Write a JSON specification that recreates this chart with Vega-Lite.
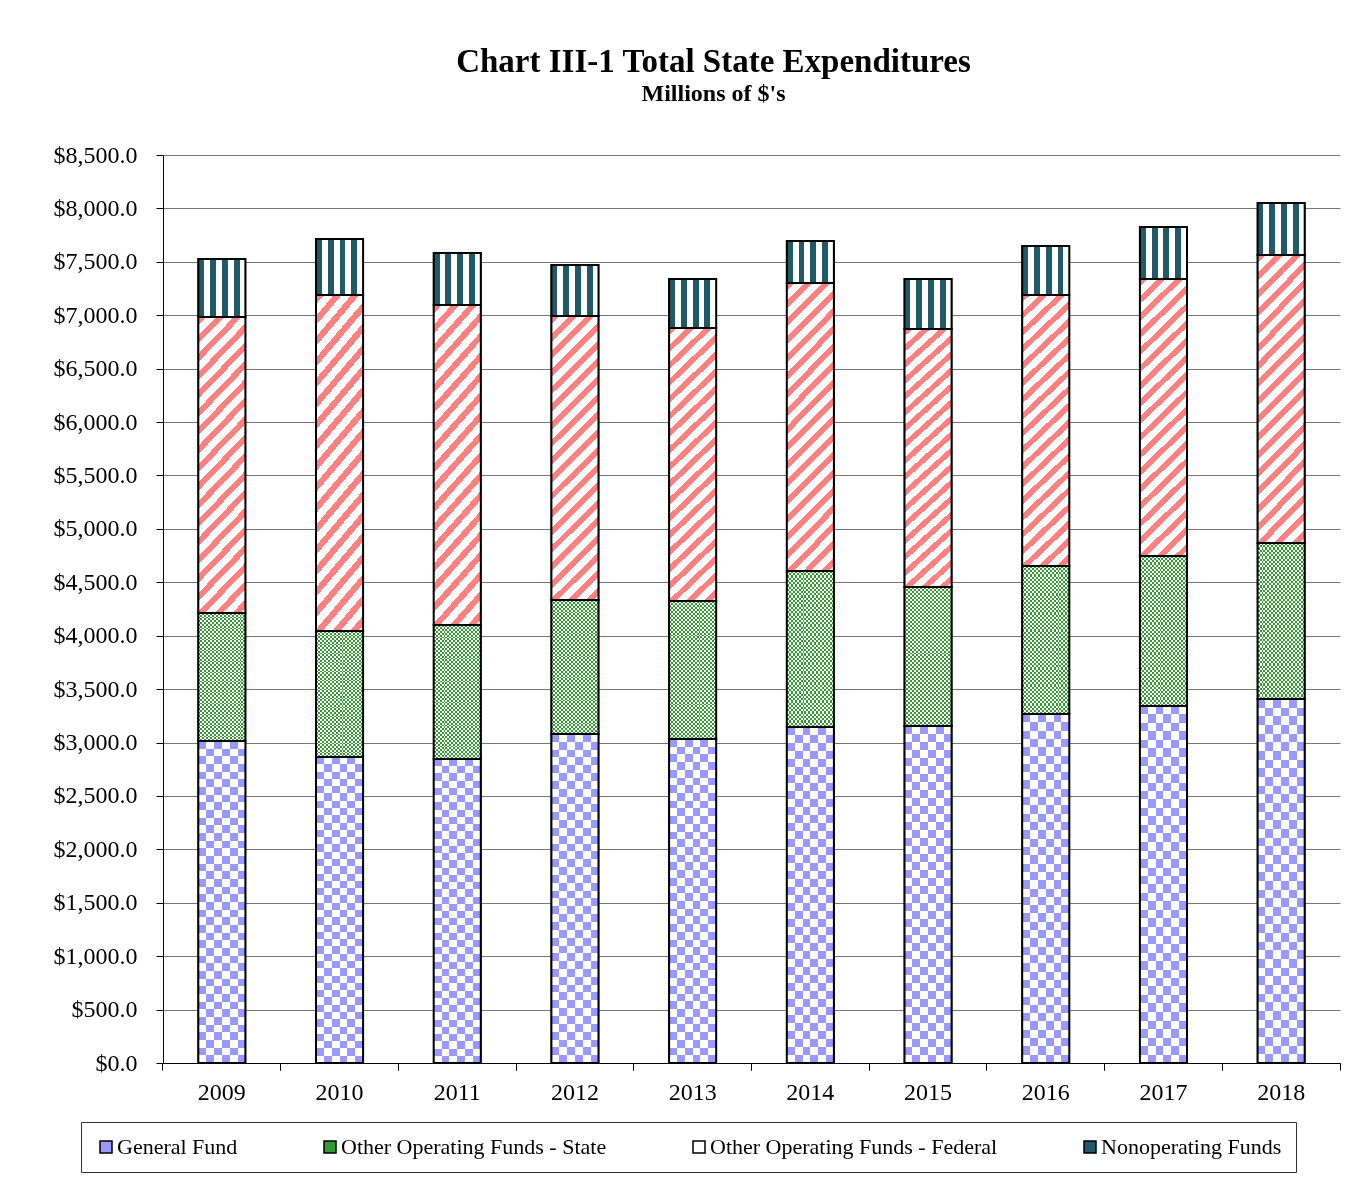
{
  "$schema": "https://vega.github.io/schema/vega-lite/v6.json",
  "width": 1177,
  "height": 908,
  "autosize": {"type": "none"},
  "padding": {"left": 163, "top": 155, "right": 26, "bottom": 115},
  "background": "white",
  "config": {"view": {"stroke": null}},
  "title": {
    "text": "Chart III-1  Total State Expenditures",
    "subtitle": "Millions of $'s",
    "font": "Liberation Serif", "fontSize": 33, "fontWeight": "bold", "color": "black",
    "subtitleFont": "Liberation Serif", "subtitleFontSize": 24, "subtitleFontWeight": "bold", "subtitleColor": "black",
    "anchor": "middle", "dx": -38, "offset": 37, "subtitlePadding": 3
  },
  "data": {"values": [
    {"year": "2009", "series": "General Fund", "value": 3014},
    {"year": "2009", "series": "Other Operating Funds - State", "value": 1199},
    {"year": "2009", "series": "Other Operating Funds - Federal", "value": 2771},
    {"year": "2009", "series": "Nonoperating Funds", "value": 543},
    {"year": "2010", "series": "General Fund", "value": 2865},
    {"year": "2010", "series": "Other Operating Funds - State", "value": 1179},
    {"year": "2010", "series": "Other Operating Funds - Federal", "value": 3146},
    {"year": "2010", "series": "Nonoperating Funds", "value": 524},
    {"year": "2011", "series": "General Fund", "value": 2846},
    {"year": "2011", "series": "Other Operating Funds - State", "value": 1254},
    {"year": "2011", "series": "Other Operating Funds - Federal", "value": 2996},
    {"year": "2011", "series": "Nonoperating Funds", "value": 487},
    {"year": "2012", "series": "General Fund", "value": 3080},
    {"year": "2012", "series": "Other Operating Funds - State", "value": 1254},
    {"year": "2012", "series": "Other Operating Funds - Federal", "value": 2659},
    {"year": "2012", "series": "Nonoperating Funds", "value": 477},
    {"year": "2013", "series": "General Fund", "value": 3033},
    {"year": "2013", "series": "Other Operating Funds - State", "value": 1292},
    {"year": "2013", "series": "Other Operating Funds - Federal", "value": 2556},
    {"year": "2013", "series": "Nonoperating Funds", "value": 458},
    {"year": "2014", "series": "General Fund", "value": 3145},
    {"year": "2014", "series": "Other Operating Funds - State", "value": 1461},
    {"year": "2014", "series": "Other Operating Funds - Federal", "value": 2696},
    {"year": "2014", "series": "Nonoperating Funds", "value": 393},
    {"year": "2015", "series": "General Fund", "value": 3155},
    {"year": "2015", "series": "Other Operating Funds - State", "value": 1301},
    {"year": "2015", "series": "Other Operating Funds - Federal", "value": 2415},
    {"year": "2015", "series": "Nonoperating Funds", "value": 468},
    {"year": "2016", "series": "General Fund", "value": 3267},
    {"year": "2016", "series": "Other Operating Funds - State", "value": 1386},
    {"year": "2016", "series": "Other Operating Funds - Federal", "value": 2537},
    {"year": "2016", "series": "Nonoperating Funds", "value": 458},
    {"year": "2017", "series": "General Fund", "value": 3342},
    {"year": "2017", "series": "Other Operating Funds - State", "value": 1404},
    {"year": "2017", "series": "Other Operating Funds - Federal", "value": 2593},
    {"year": "2017", "series": "Nonoperating Funds", "value": 487},
    {"year": "2018", "series": "General Fund", "value": 3408},
    {"year": "2018", "series": "Other Operating Funds - State", "value": 1460},
    {"year": "2018", "series": "Other Operating Funds - Federal", "value": 2696},
    {"year": "2018", "series": "Nonoperating Funds", "value": 487}
  ]},
  "transform": [{"stack": "value", "groupby": ["year"], "as": ["v0", "v1"]}],
  "encoding": {
    "x": {"field": "year", "type": "ordinal", "scale": {"paddingInner": 0.6, "paddingOuter": 0.3}, "axis": null},
    "y": {"field": "v1", "type": "quantitative",
      "scale": {"domain": [0, 8500], "nice": false, "zero": true},
      "axis": {"values": [0,500,1000,1500,2000,2500,3000,3500,4000,4500,5000,5500,6000,6500,7000,7500,8000,8500],
        "format": "$,.1f", "title": null, "labelFont": "Liberation Serif", "labelFontSize": 24, "labelColor": "black",
        "labelPadding": 19, "tickSize": 7, "tickColor": "black", "domainColor": "black", "grid": true,
        "gridColor": "#777", "gridWidth": 1}},
    "y2": {"field": "v0"}
  },
  "resolve": {"axis": {"x": "independent"}},
  "layer": [
    {
      "mark": {"type": "bar", "stroke": "black", "strokeWidth": 1.5},
      "encoding": {
        "x": {"field": "year", "type": "ordinal", "scale": {"paddingInner": 0.6, "paddingOuter": 0.3},
          "axis": {"orient": "bottom", "bandPosition": -0.75, "labels": false, "ticks": true, "tickSize": 7,
            "tickColor": "black", "domain": true, "domainColor": "black", "title": null, "grid": false}},
        "color": {"field": "series", "type": "nominal",
          "scale": {"domain": ["General Fund", "Other Operating Funds - State", "Other Operating Funds - Federal", "Nonoperating Funds"],
            "range": ["#9999FF", "#339933", "#FFFFFF", "#215968"]},
          "legend": {"title": null, "orient": "none", "legendX": -82, "legendY": 967, "direction": "horizontal",
            "columns": 4, "columnPadding": 81, "symbolType": "square", "symbolSize": 144,
            "labelFont": "Liberation Serif", "labelFontSize": 22, "labelColor": "black", "labelOffset": 0,
            "labelLimit": 400, "strokeColor": "#333", "padding": 14, "fillColor": "white"}}
      }
    },
    {
      "transform": [{"filter": "datum.series === 'General Fund'"}],
      "mark": {"type": "bar", "fill": {"gradient": "linear", "x1": 0, "y1": 0, "x2": 1, "y2": 0, "stops": [
        {"offset": 0, "color": "#fff"}, {"offset": 0.1667, "color": "#fff"}, {"offset": 0.1667, "color": "#000"}, {"offset": 0.3333, "color": "#000"},
        {"offset": 0.3333, "color": "#fff"}, {"offset": 0.5, "color": "#fff"}, {"offset": 0.5, "color": "#000"}, {"offset": 0.6667, "color": "#000"},
        {"offset": 0.6667, "color": "#fff"}, {"offset": 0.8333, "color": "#fff"}, {"offset": 0.8333, "color": "#000"}, {"offset": 1, "color": "#000"}]}},
      "encoding": {
        "x": {"field": "year", "type": "ordinal", "scale": {"paddingInner": 0.6, "paddingOuter": 0.3},
          "axis": {"orient": "bottom", "bandPosition": 1.75, "labels": false, "ticks": true, "tickSize": 7,
            "tickColor": "black", "domain": false, "title": null, "grid": false}}
      }
    },
    {
      "transform": [{"filter": "datum.series === 'General Fund'"}],
      "mark": {"type": "bar", "blend": "difference", "fill": {"gradient": "linear", "x1": 0, "y1": 0, "x2": 0, "y2": 1, "stops": [
        {"offset": 0, "color": "#fff"}, {"offset": 0.0238, "color": "#fff"}, {"offset": 0.0238, "color": "#000"}, {"offset": 0.0476, "color": "#000"},
        {"offset": 0.0476, "color": "#fff"}, {"offset": 0.0714, "color": "#fff"}, {"offset": 0.0714, "color": "#000"}, {"offset": 0.0952, "color": "#000"},
        {"offset": 0.0952, "color": "#fff"}, {"offset": 0.119, "color": "#fff"}, {"offset": 0.119, "color": "#000"}, {"offset": 0.1429, "color": "#000"},
        {"offset": 0.1429, "color": "#fff"}, {"offset": 0.1667, "color": "#fff"}, {"offset": 0.1667, "color": "#000"}, {"offset": 0.1905, "color": "#000"},
        {"offset": 0.1905, "color": "#fff"}, {"offset": 0.2143, "color": "#fff"}, {"offset": 0.2143, "color": "#000"}, {"offset": 0.2381, "color": "#000"},
        {"offset": 0.2381, "color": "#fff"}, {"offset": 0.2619, "color": "#fff"}, {"offset": 0.2619, "color": "#000"}, {"offset": 0.2857, "color": "#000"},
        {"offset": 0.2857, "color": "#fff"}, {"offset": 0.3095, "color": "#fff"}, {"offset": 0.3095, "color": "#000"}, {"offset": 0.3333, "color": "#000"},
        {"offset": 0.3333, "color": "#fff"}, {"offset": 0.3571, "color": "#fff"}, {"offset": 0.3571, "color": "#000"}, {"offset": 0.381, "color": "#000"},
        {"offset": 0.381, "color": "#fff"}, {"offset": 0.4048, "color": "#fff"}, {"offset": 0.4048, "color": "#000"}, {"offset": 0.4286, "color": "#000"},
        {"offset": 0.4286, "color": "#fff"}, {"offset": 0.4524, "color": "#fff"}, {"offset": 0.4524, "color": "#000"}, {"offset": 0.4762, "color": "#000"},
        {"offset": 0.4762, "color": "#fff"}, {"offset": 0.5, "color": "#fff"}, {"offset": 0.5, "color": "#000"}, {"offset": 0.5238, "color": "#000"},
        {"offset": 0.5238, "color": "#fff"}, {"offset": 0.5476, "color": "#fff"}, {"offset": 0.5476, "color": "#000"}, {"offset": 0.5714, "color": "#000"},
        {"offset": 0.5714, "color": "#fff"}, {"offset": 0.5952, "color": "#fff"}, {"offset": 0.5952, "color": "#000"}, {"offset": 0.619, "color": "#000"},
        {"offset": 0.619, "color": "#fff"}, {"offset": 0.6429, "color": "#fff"}, {"offset": 0.6429, "color": "#000"}, {"offset": 0.6667, "color": "#000"},
        {"offset": 0.6667, "color": "#fff"}, {"offset": 0.6905, "color": "#fff"}, {"offset": 0.6905, "color": "#000"}, {"offset": 0.7143, "color": "#000"},
        {"offset": 0.7143, "color": "#fff"}, {"offset": 0.7381, "color": "#fff"}, {"offset": 0.7381, "color": "#000"}, {"offset": 0.7619, "color": "#000"},
        {"offset": 0.7619, "color": "#fff"}, {"offset": 0.7857, "color": "#fff"}, {"offset": 0.7857, "color": "#000"}, {"offset": 0.8095, "color": "#000"},
        {"offset": 0.8095, "color": "#fff"}, {"offset": 0.8333, "color": "#fff"}, {"offset": 0.8333, "color": "#000"}, {"offset": 0.8571, "color": "#000"},
        {"offset": 0.8571, "color": "#fff"}, {"offset": 0.881, "color": "#fff"}, {"offset": 0.881, "color": "#000"}, {"offset": 0.9048, "color": "#000"},
        {"offset": 0.9048, "color": "#fff"}, {"offset": 0.9286, "color": "#fff"}, {"offset": 0.9286, "color": "#000"}, {"offset": 0.9524, "color": "#000"},
        {"offset": 0.9524, "color": "#fff"}, {"offset": 0.9762, "color": "#fff"}, {"offset": 0.9762, "color": "#000"}, {"offset": 1, "color": "#000"}]}},
      "encoding": {
        "x": {"field": "year", "type": "ordinal", "scale": {"paddingInner": 0.6, "paddingOuter": 0.3},
          "axis": {"orient": "bottom", "labels": true, "ticks": false, "domain": false, "grid": false, "title": null,
            "labelAngle": 0, "labelFont": "Liberation Serif", "labelFontSize": 24, "labelColor": "black", "labelPadding": 17}}
      }
    },
    {
      "transform": [{"filter": "datum.series === 'General Fund'"}],
      "mark": {"type": "bar", "blend": "screen", "fill": "#9999FF"}
    },
    {
      "transform": [{"filter": "datum.series === 'Other Operating Funds - State'"}],
      "mark": {"type": "bar", "fill": {"gradient": "linear", "x1": 0, "y1": 0, "x2": 1, "y2": 0, "stops": [
        {"offset": 0, "color": "#fff"}, {"offset": 0.04167, "color": "#fff"}, {"offset": 0.04167, "color": "#000"}, {"offset": 0.08333, "color": "#000"},
        {"offset": 0.08333, "color": "#fff"}, {"offset": 0.125, "color": "#fff"}, {"offset": 0.125, "color": "#000"}, {"offset": 0.16667, "color": "#000"},
        {"offset": 0.16667, "color": "#fff"}, {"offset": 0.20833, "color": "#fff"}, {"offset": 0.20833, "color": "#000"}, {"offset": 0.25, "color": "#000"},
        {"offset": 0.25, "color": "#fff"}, {"offset": 0.29167, "color": "#fff"}, {"offset": 0.29167, "color": "#000"}, {"offset": 0.33333, "color": "#000"},
        {"offset": 0.33333, "color": "#fff"}, {"offset": 0.375, "color": "#fff"}, {"offset": 0.375, "color": "#000"}, {"offset": 0.41667, "color": "#000"},
        {"offset": 0.41667, "color": "#fff"}, {"offset": 0.45833, "color": "#fff"}, {"offset": 0.45833, "color": "#000"}, {"offset": 0.5, "color": "#000"},
        {"offset": 0.5, "color": "#fff"}, {"offset": 0.54167, "color": "#fff"}, {"offset": 0.54167, "color": "#000"}, {"offset": 0.58333, "color": "#000"},
        {"offset": 0.58333, "color": "#fff"}, {"offset": 0.625, "color": "#fff"}, {"offset": 0.625, "color": "#000"}, {"offset": 0.66667, "color": "#000"},
        {"offset": 0.66667, "color": "#fff"}, {"offset": 0.70833, "color": "#fff"}, {"offset": 0.70833, "color": "#000"}, {"offset": 0.75, "color": "#000"},
        {"offset": 0.75, "color": "#fff"}, {"offset": 0.79167, "color": "#fff"}, {"offset": 0.79167, "color": "#000"}, {"offset": 0.83333, "color": "#000"},
        {"offset": 0.83333, "color": "#fff"}, {"offset": 0.875, "color": "#fff"}, {"offset": 0.875, "color": "#000"}, {"offset": 0.91667, "color": "#000"},
        {"offset": 0.91667, "color": "#fff"}, {"offset": 0.95833, "color": "#fff"}, {"offset": 0.95833, "color": "#000"}, {"offset": 1, "color": "#000"}]}}
    },
    {
      "transform": [{"filter": "datum.series === 'Other Operating Funds - State'"}],
      "mark": {"type": "bar", "blend": "difference", "fill": {"gradient": "linear", "x1": 0, "y1": 0, "x2": 0, "y2": 1, "stops": [
        {"offset": 0, "color": "#fff"}, {"offset": 0.01429, "color": "#fff"}, {"offset": 0.01429, "color": "#000"}, {"offset": 0.02857, "color": "#000"},
        {"offset": 0.02857, "color": "#fff"}, {"offset": 0.04286, "color": "#fff"}, {"offset": 0.04286, "color": "#000"}, {"offset": 0.05714, "color": "#000"},
        {"offset": 0.05714, "color": "#fff"}, {"offset": 0.07143, "color": "#fff"}, {"offset": 0.07143, "color": "#000"}, {"offset": 0.08571, "color": "#000"},
        {"offset": 0.08571, "color": "#fff"}, {"offset": 0.1, "color": "#fff"}, {"offset": 0.1, "color": "#000"}, {"offset": 0.11429, "color": "#000"},
        {"offset": 0.11429, "color": "#fff"}, {"offset": 0.12857, "color": "#fff"}, {"offset": 0.12857, "color": "#000"}, {"offset": 0.14286, "color": "#000"},
        {"offset": 0.14286, "color": "#fff"}, {"offset": 0.15714, "color": "#fff"}, {"offset": 0.15714, "color": "#000"}, {"offset": 0.17143, "color": "#000"},
        {"offset": 0.17143, "color": "#fff"}, {"offset": 0.18571, "color": "#fff"}, {"offset": 0.18571, "color": "#000"}, {"offset": 0.2, "color": "#000"},
        {"offset": 0.2, "color": "#fff"}, {"offset": 0.21429, "color": "#fff"}, {"offset": 0.21429, "color": "#000"}, {"offset": 0.22857, "color": "#000"},
        {"offset": 0.22857, "color": "#fff"}, {"offset": 0.24286, "color": "#fff"}, {"offset": 0.24286, "color": "#000"}, {"offset": 0.25714, "color": "#000"},
        {"offset": 0.25714, "color": "#fff"}, {"offset": 0.27143, "color": "#fff"}, {"offset": 0.27143, "color": "#000"}, {"offset": 0.28571, "color": "#000"},
        {"offset": 0.28571, "color": "#fff"}, {"offset": 0.3, "color": "#fff"}, {"offset": 0.3, "color": "#000"}, {"offset": 0.31429, "color": "#000"},
        {"offset": 0.31429, "color": "#fff"}, {"offset": 0.32857, "color": "#fff"}, {"offset": 0.32857, "color": "#000"}, {"offset": 0.34286, "color": "#000"},
        {"offset": 0.34286, "color": "#fff"}, {"offset": 0.35714, "color": "#fff"}, {"offset": 0.35714, "color": "#000"}, {"offset": 0.37143, "color": "#000"},
        {"offset": 0.37143, "color": "#fff"}, {"offset": 0.38571, "color": "#fff"}, {"offset": 0.38571, "color": "#000"}, {"offset": 0.4, "color": "#000"},
        {"offset": 0.4, "color": "#fff"}, {"offset": 0.41429, "color": "#fff"}, {"offset": 0.41429, "color": "#000"}, {"offset": 0.42857, "color": "#000"},
        {"offset": 0.42857, "color": "#fff"}, {"offset": 0.44286, "color": "#fff"}, {"offset": 0.44286, "color": "#000"}, {"offset": 0.45714, "color": "#000"},
        {"offset": 0.45714, "color": "#fff"}, {"offset": 0.47143, "color": "#fff"}, {"offset": 0.47143, "color": "#000"}, {"offset": 0.48571, "color": "#000"},
        {"offset": 0.48571, "color": "#fff"}, {"offset": 0.5, "color": "#fff"}, {"offset": 0.5, "color": "#000"}, {"offset": 0.51429, "color": "#000"},
        {"offset": 0.51429, "color": "#fff"}, {"offset": 0.52857, "color": "#fff"}, {"offset": 0.52857, "color": "#000"}, {"offset": 0.54286, "color": "#000"},
        {"offset": 0.54286, "color": "#fff"}, {"offset": 0.55714, "color": "#fff"}, {"offset": 0.55714, "color": "#000"}, {"offset": 0.57143, "color": "#000"},
        {"offset": 0.57143, "color": "#fff"}, {"offset": 0.58571, "color": "#fff"}, {"offset": 0.58571, "color": "#000"}, {"offset": 0.6, "color": "#000"},
        {"offset": 0.6, "color": "#fff"}, {"offset": 0.61429, "color": "#fff"}, {"offset": 0.61429, "color": "#000"}, {"offset": 0.62857, "color": "#000"},
        {"offset": 0.62857, "color": "#fff"}, {"offset": 0.64286, "color": "#fff"}, {"offset": 0.64286, "color": "#000"}, {"offset": 0.65714, "color": "#000"},
        {"offset": 0.65714, "color": "#fff"}, {"offset": 0.67143, "color": "#fff"}, {"offset": 0.67143, "color": "#000"}, {"offset": 0.68571, "color": "#000"},
        {"offset": 0.68571, "color": "#fff"}, {"offset": 0.7, "color": "#fff"}, {"offset": 0.7, "color": "#000"}, {"offset": 0.71429, "color": "#000"},
        {"offset": 0.71429, "color": "#fff"}, {"offset": 0.72857, "color": "#fff"}, {"offset": 0.72857, "color": "#000"}, {"offset": 0.74286, "color": "#000"},
        {"offset": 0.74286, "color": "#fff"}, {"offset": 0.75714, "color": "#fff"}, {"offset": 0.75714, "color": "#000"}, {"offset": 0.77143, "color": "#000"},
        {"offset": 0.77143, "color": "#fff"}, {"offset": 0.78571, "color": "#fff"}, {"offset": 0.78571, "color": "#000"}, {"offset": 0.8, "color": "#000"},
        {"offset": 0.8, "color": "#fff"}, {"offset": 0.81429, "color": "#fff"}, {"offset": 0.81429, "color": "#000"}, {"offset": 0.82857, "color": "#000"},
        {"offset": 0.82857, "color": "#fff"}, {"offset": 0.84286, "color": "#fff"}, {"offset": 0.84286, "color": "#000"}, {"offset": 0.85714, "color": "#000"},
        {"offset": 0.85714, "color": "#fff"}, {"offset": 0.87143, "color": "#fff"}, {"offset": 0.87143, "color": "#000"}, {"offset": 0.88571, "color": "#000"},
        {"offset": 0.88571, "color": "#fff"}, {"offset": 0.9, "color": "#fff"}, {"offset": 0.9, "color": "#000"}, {"offset": 0.91429, "color": "#000"},
        {"offset": 0.91429, "color": "#fff"}, {"offset": 0.92857, "color": "#fff"}, {"offset": 0.92857, "color": "#000"}, {"offset": 0.94286, "color": "#000"},
        {"offset": 0.94286, "color": "#fff"}, {"offset": 0.95714, "color": "#fff"}, {"offset": 0.95714, "color": "#000"}, {"offset": 0.97143, "color": "#000"},
        {"offset": 0.97143, "color": "#fff"}, {"offset": 0.98571, "color": "#fff"}, {"offset": 0.98571, "color": "#000"}, {"offset": 1, "color": "#000"}]}}
    },
    {
      "transform": [{"filter": "datum.series === 'Other Operating Funds - State'"}],
      "mark": {"type": "bar", "blend": "screen", "fill": "#339933"}
    },
    {
      "transform": [{"filter": "datum.series === 'Other Operating Funds - Federal'"}],
      "mark": {"type": "bar", "fill": {"gradient": "linear", "x1": 0, "y1": 0, "x2": 0.19, "y2": 1.15, "stops": [
        {"offset": 0, "color": "#FF8080"}, {"offset": 0.02368, "color": "#FF8080"}, {"offset": 0.02368, "color": "#fff"}, {"offset": 0.05263, "color": "#fff"},
        {"offset": 0.05263, "color": "#FF8080"}, {"offset": 0.07632, "color": "#FF8080"}, {"offset": 0.07632, "color": "#fff"}, {"offset": 0.10526, "color": "#fff"},
        {"offset": 0.10526, "color": "#FF8080"}, {"offset": 0.12895, "color": "#FF8080"}, {"offset": 0.12895, "color": "#fff"}, {"offset": 0.15789, "color": "#fff"},
        {"offset": 0.15789, "color": "#FF8080"}, {"offset": 0.18158, "color": "#FF8080"}, {"offset": 0.18158, "color": "#fff"}, {"offset": 0.21053, "color": "#fff"},
        {"offset": 0.21053, "color": "#FF8080"}, {"offset": 0.23421, "color": "#FF8080"}, {"offset": 0.23421, "color": "#fff"}, {"offset": 0.26316, "color": "#fff"},
        {"offset": 0.26316, "color": "#FF8080"}, {"offset": 0.28684, "color": "#FF8080"}, {"offset": 0.28684, "color": "#fff"}, {"offset": 0.31579, "color": "#fff"},
        {"offset": 0.31579, "color": "#FF8080"}, {"offset": 0.33947, "color": "#FF8080"}, {"offset": 0.33947, "color": "#fff"}, {"offset": 0.36842, "color": "#fff"},
        {"offset": 0.36842, "color": "#FF8080"}, {"offset": 0.39211, "color": "#FF8080"}, {"offset": 0.39211, "color": "#fff"}, {"offset": 0.42105, "color": "#fff"},
        {"offset": 0.42105, "color": "#FF8080"}, {"offset": 0.44474, "color": "#FF8080"}, {"offset": 0.44474, "color": "#fff"}, {"offset": 0.47368, "color": "#fff"},
        {"offset": 0.47368, "color": "#FF8080"}, {"offset": 0.49737, "color": "#FF8080"}, {"offset": 0.49737, "color": "#fff"}, {"offset": 0.52632, "color": "#fff"},
        {"offset": 0.52632, "color": "#FF8080"}, {"offset": 0.55, "color": "#FF8080"}, {"offset": 0.55, "color": "#fff"}, {"offset": 0.57895, "color": "#fff"},
        {"offset": 0.57895, "color": "#FF8080"}, {"offset": 0.60263, "color": "#FF8080"}, {"offset": 0.60263, "color": "#fff"}, {"offset": 0.63158, "color": "#fff"},
        {"offset": 0.63158, "color": "#FF8080"}, {"offset": 0.65526, "color": "#FF8080"}, {"offset": 0.65526, "color": "#fff"}, {"offset": 0.68421, "color": "#fff"},
        {"offset": 0.68421, "color": "#FF8080"}, {"offset": 0.70789, "color": "#FF8080"}, {"offset": 0.70789, "color": "#fff"}, {"offset": 0.73684, "color": "#fff"},
        {"offset": 0.73684, "color": "#FF8080"}, {"offset": 0.76053, "color": "#FF8080"}, {"offset": 0.76053, "color": "#fff"}, {"offset": 0.78947, "color": "#fff"},
        {"offset": 0.78947, "color": "#FF8080"}, {"offset": 0.81316, "color": "#FF8080"}, {"offset": 0.81316, "color": "#fff"}, {"offset": 0.84211, "color": "#fff"},
        {"offset": 0.84211, "color": "#FF8080"}, {"offset": 0.86579, "color": "#FF8080"}, {"offset": 0.86579, "color": "#fff"}, {"offset": 0.89474, "color": "#fff"},
        {"offset": 0.89474, "color": "#FF8080"}, {"offset": 0.91842, "color": "#FF8080"}, {"offset": 0.91842, "color": "#fff"}, {"offset": 0.94737, "color": "#fff"},
        {"offset": 0.94737, "color": "#FF8080"}, {"offset": 0.97105, "color": "#FF8080"}, {"offset": 0.97105, "color": "#fff"}, {"offset": 1, "color": "#fff"}]}}
    },
    {
      "transform": [{"filter": "datum.series === 'Nonoperating Funds'"}],
      "mark": {"type": "bar", "fill": {"gradient": "linear", "x1": 0, "y1": 0, "x2": 1, "y2": 0, "stops": [
        {"offset": 0, "color": "#215968"}, {"offset": 0.125, "color": "#215968"}, {"offset": 0.125, "color": "#fff"}, {"offset": 0.25, "color": "#fff"},
        {"offset": 0.25, "color": "#215968"}, {"offset": 0.375, "color": "#215968"}, {"offset": 0.375, "color": "#fff"}, {"offset": 0.5, "color": "#fff"},
        {"offset": 0.5, "color": "#215968"}, {"offset": 0.625, "color": "#215968"}, {"offset": 0.625, "color": "#fff"}, {"offset": 0.75, "color": "#fff"},
        {"offset": 0.75, "color": "#215968"}, {"offset": 0.875, "color": "#215968"}, {"offset": 0.875, "color": "#fff"}, {"offset": 1, "color": "#fff"}]}}
    },
    {
      "mark": {"type": "bar", "filled": false, "stroke": "black", "strokeWidth": 2}
    }
  ]
}
